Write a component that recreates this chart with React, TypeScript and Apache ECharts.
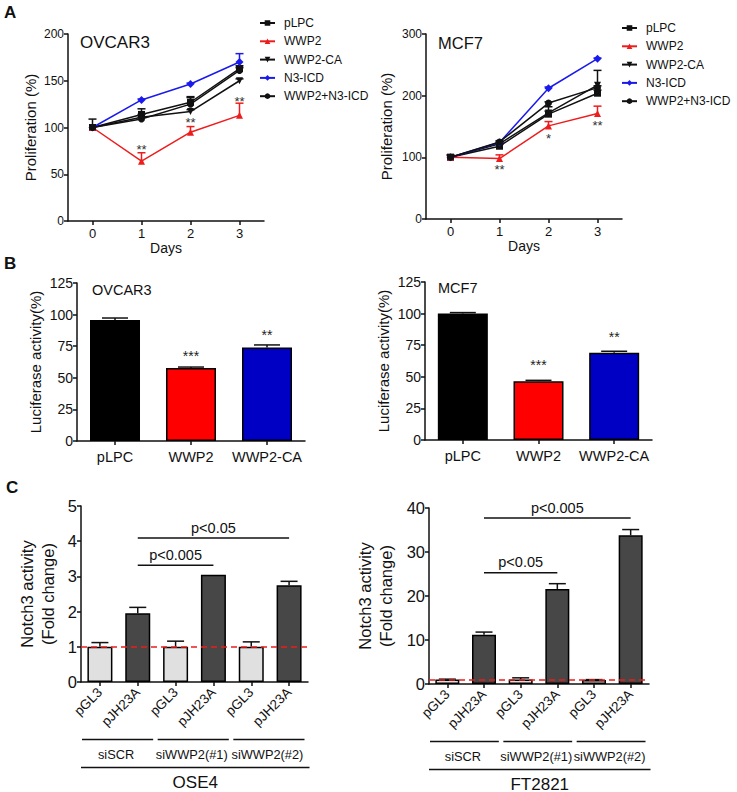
import React, { useEffect, useRef } from 'react';
import * as echarts from 'echarts';

const FONT = '"Liberation Sans", Arial, sans-serif';
const INK = '#111111';

// ---------- Panel A data ----------
const days = ['0', '1', '2', '3'];
const lineNames = ['pLPC', 'WWP2', 'WWP2-CA', 'N3-ICD', 'WWP2+N3-ICD'];
const lineColors = ['#111111', '#ee1c1c', '#111111', '#1a1aee', '#111111'];
const lineSymbols = ['rect', 'triangle', 'triangle', 'diamond', 'circle'];
const lineSymbolRotate = [0, 0, 180, 0, 0];

const ovcarPLPC = [100, 114, 127, 163];
const ovcarWWP2 = [100, 64, 95, 113];
const ovcarWWP2CA = [100, 111, 117, 150];
const ovcarN3ICD = [100, 129.5, 146.5, 170];
const ovcarCombo = [100, 109, 125, 161];
const ovcarPLPCErr = [9, 6, 6, 3];
const ovcarWWP2Err = [0, 9, 6, 13];
const ovcarWWP2CAErr = [0, 3, 2, 2];
const ovcarN3ICDErr = [0, 1, 1, 9];
const ovcarComboErr = [0, 2, 7, 3];
const ovcarStarDays = [1, 2, 3];
const ovcarStarValues = [77, 105, 128];
const ovcarStarTexts = ['**', '**', '**'];

const mcfPLPC = [100, 118, 170, 204];
const mcfWWP2 = [100, 98, 151, 171];
const mcfWWP2CA = [100, 122, 172, 217];
const mcfN3ICD = [100, 124, 212, 260];
const mcfCombo = [100, 125, 188, 213];
const mcfPLPCErr = [4, 3, 12, 5];
const mcfWWP2Err = [3, 6, 7, 12];
const mcfWWP2CAErr = [0, 2, 3, 24];
const mcfN3ICDErr = [0, 1, 2, 1];
const mcfComboErr = [0, 2, 2, 3];
const mcfStarDays = [1, 2, 3];
const mcfStarValues = [80, 130, 151];
const mcfStarTexts = ['**', '*', '**'];

// ---------- Panel B data ----------
const lucCategories = ['pLPC', 'WWP2', 'WWP2-CA'];
const lucColors = ['#000000', '#ff0000', '#0000c4'];
const lucOvcar = [95.8, 57.7, 74];
const lucOvcarErr = [1.5, 0.8, 2];
const lucMcf = [100, 46.5, 69];
const lucMcfErr = [0.8, 0.7, 1.2];
const lucStars = ['', '***', '**'];

// ---------- Panel C data ----------
const notchCategories = ['pGL3', 'pJH23A', 'pGL3', 'pJH23A', 'pGL3', 'pJH23A'];
const notchColors = ['#e0e0e0', '#474747', '#e0e0e0', '#474747', '#e0e0e0', '#474747'];
const ose4Values = [1, 1.95, 1, 3.05, 1, 2.75];
const ose4Err = [0.12, 0.17, 0.16, 0, 0.14, 0.11];
const ft2821Values = [1, 11.2, 1, 21.6, 0.9, 33.8];
const ft2821Err = [0.1, 0.6, 0.4, 1.2, 0.1, 1.3];
const siGroups = ['siSCR', 'siWWP2(#1)', 'siWWP2(#2)'];
const groupStart = [0, 2, 4];
const groupEnd = [1, 3, 5];
const ose4BracketFrom = [1, 1];
const ose4BracketTo = [3.2, 5];
const ose4BracketAt = [3.32, 4.09];
const ose4BracketText = ['p<0.005', 'p<0.05'];
const ftBracketFrom = [1, 1];
const ftBracketTo = [3, 5];
const ftBracketAt = [25.3, 37.7];
const ftBracketText = ['p<0.05', 'p<0.005'];

const axisLine = { show: true, lineStyle: { color: INK, width: 1.5 } };
const axisTick = { show: true, inside: false, length: 4, lineStyle: { color: INK, width: 1.5 } };

function errorBarRender(color: string, halfCap: number) {
  return (params: any, api: any) => {
    const x = api.value(0);
    const y = api.value(1);
    const e = api.value(2);
    if (!e) return null;
    const p0 = api.coord([x, y]);
    const p1 = api.coord([x, y + e]);
    return {
      type: 'group',
      children: [
        { type: 'line', shape: { x1: p0[0], y1: p0[1], x2: p1[0], y2: p1[1] }, style: { stroke: color, lineWidth: 1.5 } },
        { type: 'line', shape: { x1: p1[0] - halfCap, y1: p1[1], x2: p1[0] + halfCap, y2: p1[1] }, style: { stroke: color, lineWidth: 1.5 } },
      ],
    };
  };
}

function starSeries(idx: number, dayIdx: number[], vals: number[], texts: string[]) {
  return {
    type: 'custom',
    name: 'stars' + idx,
    xAxisIndex: idx,
    yAxisIndex: idx,
    z: 5,
    data: dayIdx.map((d, i) => [d, vals[i]]),
    renderItem: (params: any, api: any) => {
      const p = api.coord([api.value(0), api.value(1)]);
      return {
        type: 'text',
        x: p[0],
        y: p[1],
        style: { text: texts[params.dataIndex], fill: '#333', fontSize: 13, fontFamily: FONT, align: 'center', verticalAlign: 'middle' },
      };
    },
  };
}

function lineSet(idx: number, means: number[][], errs: number[][]) {
  const out: any[] = [];
  means.forEach((m, s) => {
    out.push({
      type: 'custom',
      name: 'err' + idx + '_' + s,
      xAxisIndex: idx,
      yAxisIndex: idx,
      z: 1,
      data: m.map((v, i) => [i, v, errs[s][i]]),
      renderItem: errorBarRender(lineColors[s], 4),
    });
  });
  means.forEach((m, s) => {
    out.push({
      type: 'line',
      name: lineNames[s],
      xAxisIndex: idx,
      yAxisIndex: idx,
      z: 3,
      data: m,
      symbol: lineSymbols[s],
      symbolRotate: lineSymbolRotate[s],
      symbolSize: s === 3 ? 8 : 7,
      showSymbol: true,
      color: lineColors[s],
      lineStyle: { color: lineColors[s], width: 1.5 },
      itemStyle: { color: lineColors[s] },
    });
  });
  return out;
}

function bracketSeries(idx: number, from: number[], to: number[], at: number[], texts: string[]) {
  return {
    type: 'custom',
    name: 'bracket' + idx,
    xAxisIndex: idx,
    yAxisIndex: idx,
    z: 5,
    data: from.map((f, i) => [f, at[i], to[i]]),
    renderItem: (params: any, api: any) => {
      const a = api.coord([api.value(0), api.value(1)]);
      const b = api.coord([api.value(2), api.value(1)]);
      return {
        type: 'group',
        children: [
          { type: 'line', shape: { x1: a[0], y1: a[1], x2: b[0], y2: b[1] }, style: { stroke: INK, lineWidth: 1.5 } },
          {
            type: 'text',
            x: (a[0] + b[0]) / 2,
            y: a[1] - 3,
            style: { text: texts[params.dataIndex], fill: INK, fontSize: 14.5, fontFamily: FONT, align: 'center', verticalAlign: 'bottom' },
          },
        ],
      };
    },
  };
}

function groupSeries(idx: number) {
  return {
    type: 'custom',
    name: 'groups' + idx,
    xAxisIndex: idx,
    yAxisIndex: idx,
    z: 5,
    clip: false,
    data: groupStart.map((g, i) => [g, 0, groupEnd[i]]),
    renderItem: (params: any, api: any) => {
      const band = api.size([1, 0])[0];
      const a = api.coord([api.value(0), 0]);
      const b = api.coord([api.value(2), 0]);
      const left = a[0] - band / 2 + 1;
      const right = b[0] + band / 2 - 3.5;
      const y0 = a[1];
      return {
        type: 'group',
        children: [
          { type: 'line', shape: { x1: left, y1: y0 + 57.5, x2: right, y2: y0 + 57.5 }, style: { stroke: INK, lineWidth: 1.5 } },
          {
            type: 'text',
            x: (left + right) / 2 - 1.5,
            y: y0 + 72.5,
            style: { text: siGroups[params.dataIndex], fill: INK, fontSize: 12.8, fontFamily: FONT, align: 'center', verticalAlign: 'middle' },
          },
        ],
      };
    },
  };
}

function cellLineSeries(idx: number, label: string) {
  return {
    type: 'custom',
    name: 'cell' + idx,
    xAxisIndex: idx,
    yAxisIndex: idx,
    z: 5,
    clip: false,
    data: [[0, 0, notchCategories.length - 1]],
    renderItem: (params: any, api: any) => {
      const band = api.size([1, 0])[0];
      const a = api.coord([api.value(0), 0]);
      const b = api.coord([api.value(2), 0]);
      const left = a[0] - band / 2;
      const right = b[0] + band / 2 + 1.5;
      const y0 = a[1];
      return {
        type: 'group',
        children: [
          { type: 'line', shape: { x1: left, y1: y0 + 85.5, x2: right, y2: y0 + 85.5 }, style: { stroke: INK, lineWidth: 1.5 } },
          {
            type: 'text',
            x: (left + right) / 2,
            y: y0 + 100,
            style: { text: label, fill: INK, fontSize: 17, fontFamily: FONT, align: 'center', verticalAlign: 'middle' },
          },
        ],
      };
    },
  };
}

function lucBars(idx: number, vals: number[], errs: number[], labelDist: number) {
  return [
    {
      type: 'bar',
      name: 'luc' + idx,
      xAxisIndex: idx,
      yAxisIndex: idx,
      barWidth: 50,
      z: 2,
      data: vals.map((v, i) => ({ value: v, itemStyle: { color: lucColors[i], borderColor: '#000', borderWidth: 1.5 } })),
      label: {
        show: true,
        position: 'top',
        distance: labelDist,
        formatter: (p: any) => lucStars[p.dataIndex],
        fontSize: 14,
        fontFamily: FONT,
        color: '#222',
      },
    },
    {
      type: 'custom',
      name: 'lucErr' + idx,
      xAxisIndex: idx,
      yAxisIndex: idx,
      z: 3,
      data: vals.map((v, i) => [i, v, errs[i]]),
      renderItem: errorBarRender(INK, 13),
    },
  ];
}

function notchBars(idx: number, vals: number[], errs: number[], width: number) {
  return [
    {
      type: 'bar',
      name: 'notch' + idx,
      xAxisIndex: idx,
      yAxisIndex: idx,
      barWidth: width,
      z: 2,
      data: vals.map((v, i) => ({ value: v, itemStyle: { color: notchColors[i], borderColor: '#000', borderWidth: 1.5 } })),
      markLine: {
        silent: true,
        symbol: 'none',
        label: { show: false },
        lineStyle: { color: '#ee1c1c', type: [6, 4], width: 1.5 },
        data: [{ yAxis: 1 }],
        z: 6,
      },
    },
    {
      type: 'custom',
      name: 'notchErr' + idx,
      xAxisIndex: idx,
      yAxisIndex: idx,
      z: 3,
      data: vals.map((v, i) => [i, v, errs[i]]),
      renderItem: errorBarRender(INK, 8.5),
    },
  ];
}

function yAx(idx: number, min: number, max: number, interval: number, name: string, nameGap: number, labelSize: number, nameSize: number) {
  return {
    type: 'value',
    gridIndex: idx,
    min,
    max,
    interval,
    axisLine,
    axisTick,
    splitLine: { show: false },
    axisLabel: { color: INK, fontSize: labelSize, fontFamily: FONT, margin: 4 },
    name,
    nameLocation: 'middle',
    nameGap,
    nameTextStyle: { color: INK, fontSize: nameSize, fontFamily: FONT, lineHeight: nameSize + 5 },
  };
}

export default function App() {
  const ref = useRef<HTMLDivElement>(null);
  useEffect(() => {
    if (!ref.current) return;
    const chart = echarts.init(ref.current, undefined, { renderer: 'svg' });

    const lineLegend = (left: number, top: number) => ({
      orient: 'vertical',
      left,
      top,
      itemWidth: 15,
      itemHeight: 7,
      itemGap: 6.3,
      data: lineNames,
      textStyle: { color: INK, fontSize: 12, fontFamily: FONT, padding: [0, 0, 0, 4] },
      selectedMode: false,
    });

    const option: any = {
      animation: false,
      backgroundColor: '#ffffff',
      textStyle: { fontFamily: FONT },
      legend: [
        { ...lineLegend(254, 12) },
        { ...lineLegend(616, 17) },
      ],
      grid: [
        { left: 68, top: 34, width: 196, height: 187 },
        { left: 426, top: 34, width: 196, height: 185 },
        { left: 77, top: 283, width: 228, height: 158 },
        { left: 425, top: 282, width: 227, height: 158 },
        { left: 81, top: 506, width: 227, height: 176 },
        { left: 429, top: 508, width: 220, height: 176 },
      ],
      xAxis: [
        ...[0, 1].map((g) => ({
          type: 'category',
          gridIndex: g,
          data: days,
          boundaryGap: true,
          axisLine,
          axisTick: { ...axisTick, alignWithLabel: true },
          axisLabel: { color: INK, fontSize: 13, fontFamily: FONT, margin: 6 },
          name: 'Days',
          nameLocation: 'middle',
          nameGap: 20,
          nameTextStyle: { color: INK, fontSize: 14, fontFamily: FONT, verticalAlign: 'top' },
        })),
        ...[2, 3].map((g) => ({
          type: 'category',
          gridIndex: g,
          data: lucCategories,
          axisLine,
          axisTick: { ...axisTick, alignWithLabel: true },
          axisLabel: { color: INK, fontSize: 14.5, fontFamily: FONT, margin: 8, interval: 0 },
        })),
        ...[4, 5].map((g) => ({
          type: 'category',
          gridIndex: g,
          data: notchCategories,
          axisLine,
          axisTick: { ...axisTick, alignWithLabel: true },
          axisLabel: { color: INK, fontSize: 13.5, fontFamily: FONT, rotate: 45, margin: 8, interval: 0 },
        })),
      ],
      yAxis: [
        yAx(0, 0, 200, 50, 'Proliferation (%)', 27, 12, 15),
        yAx(1, 0, 300, 100, 'Proliferation (%)', 30, 12, 15),
        yAx(2, 0, 125, 25, 'Luciferase activity(%)', 30, 14, 15),
        yAx(3, 0, 125, 25, 'Luciferase activity(%)', 30, 14, 15),
        yAx(4, 0, 5, 1, 'Notch3 activity\n(Fold change)', 22, 16.5, 16.5),
        yAx(5, 0, 40, 10, 'Notch3 activity\n(Fold change)', 32, 16.5, 16.5),
      ],
      graphic: [
        { type: 'text', left: 4, top: 4, style: { text: 'A', fontSize: 17, fontWeight: 'bold', fontFamily: FONT, fill: INK } },
        { type: 'text', left: 4, top: 255, style: { text: 'B', fontSize: 17, fontWeight: 'bold', fontFamily: FONT, fill: INK } },
        { type: 'text', left: 6, top: 479, style: { text: 'C', fontSize: 17, fontWeight: 'bold', fontFamily: FONT, fill: INK } },
        { type: 'text', left: 80, top: 34, style: { text: 'OVCAR3', fontSize: 17, fontFamily: FONT, fill: INK } },
        { type: 'text', left: 438, top: 34, style: { text: 'MCF7', fontSize: 16.5, fontFamily: FONT, fill: INK } },
        { type: 'text', left: 92, top: 282, style: { text: 'OVCAR3', fontSize: 14.5, fontFamily: FONT, fill: INK } },
        { type: 'text', left: 438, top: 280, style: { text: 'MCF7', fontSize: 14.5, fontFamily: FONT, fill: INK } },
      ],
      series: [
        ...lineSet(0, [ovcarPLPC, ovcarWWP2, ovcarWWP2CA, ovcarN3ICD, ovcarCombo], [ovcarPLPCErr, ovcarWWP2Err, ovcarWWP2CAErr, ovcarN3ICDErr, ovcarComboErr]),
        starSeries(0, ovcarStarDays, ovcarStarValues, ovcarStarTexts),
        ...lineSet(1, [mcfPLPC, mcfWWP2, mcfWWP2CA, mcfN3ICD, mcfCombo], [mcfPLPCErr, mcfWWP2Err, mcfWWP2CAErr, mcfN3ICDErr, mcfComboErr]),
        starSeries(1, mcfStarDays, mcfStarValues, mcfStarTexts),
        ...lucBars(2, lucOvcar, lucOvcarErr, 5),
        ...lucBars(3, lucMcf, lucMcfErr, 9),
        ...notchBars(4, ose4Values, ose4Err, 25),
        bracketSeries(4, ose4BracketFrom, ose4BracketTo, ose4BracketAt, ose4BracketText),
        groupSeries(4),
        cellLineSeries(4, 'OSE4'),
        ...notchBars(5, ft2821Values, ft2821Err, 24),
        bracketSeries(5, ftBracketFrom, ftBracketTo, ftBracketAt, ftBracketText),
        groupSeries(5),
        cellLineSeries(5, 'FT2821'),
      ],
    };
    chart.setOption(option);
    return () => chart.dispose();
  }, []);
  return <div ref={ref} style={{ position: 'absolute', left: 0, top: 0, width: 737, height: 792, background: '#fff' }} />;
}
